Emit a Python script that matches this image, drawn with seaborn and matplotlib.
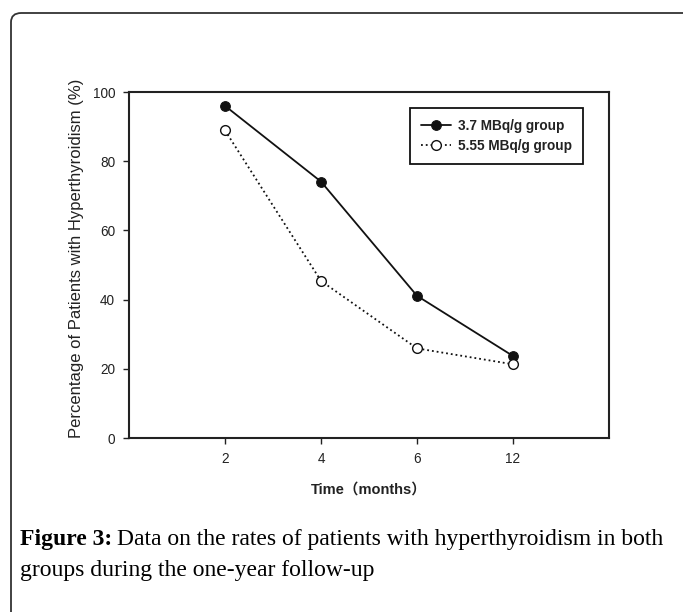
import matplotlib
matplotlib.use("Agg")
import matplotlib.pyplot as plt
import seaborn as sns
import pandas as pd
from matplotlib.patches import FancyBboxPatch

months = ["2", "4", "6", "12"]
group_a = [96.0, 74.1, 41.1, 23.7]
group_b = [88.9, 45.4, 25.9, 21.3]
label_a = "3.7 MBq/g group"
label_b = "5.55 MBq/g group"

sns.set_theme(style="white")
plt.rcParams['font.family'] = ['Liberation Sans', 'Noto Sans CJK SC', 'DejaVu Sans']

fig = plt.figure(figsize=(6.83, 6.12), dpi=100)
W, H = 683, 612
ax = fig.add_axes([129 / W, 1 - 438 / H, (609 - 129) / W, (438 - 92) / H])

df_a = pd.DataFrame({"month": months, "value": group_a})
df_b = pd.DataFrame({"month": months, "value": group_b})

sns.lineplot(data=df_a, x="month", y="value", ax=ax, color="#111111", lw=1.3,
             marker="o", markersize=7, markerfacecolor="#111111",
             markeredgecolor="#111111", label=label_a, sort=False)
sns.lineplot(data=df_b, x="month", y="value", ax=ax, color="#111111", lw=1.3,
             linestyle=":", marker="o", markersize=7, markerfacecolor="white",
             markeredgecolor="#111111", markeredgewidth=1.0, label=label_b, sort=False)

ax.set_xlim(-1, 4)
ax.set_ylim(0, 100)
ax.set_yticks([0, 20, 40, 60, 80, 100])
for s in ax.spines.values():
    s.set_color("#222222")
    s.set_linewidth(1.5)
ax.tick_params(axis="both", which="both", direction="out", length=4, width=1.0,
               color="#222222", labelsize=9.8, labelcolor="#222222", pad=6,
               left=True, bottom=True)
ax.set_xlabel("Time（months）", fontsize=10.5, fontweight="bold", color="#222222", labelpad=12)
ax.set_ylabel("Percentage of Patients with Hyperthyroidism (%)", fontsize=12,
              color="#222222", labelpad=6)
ax.yaxis.label.set_y(0.52)

leg = ax.legend(loc="upper right", bbox_to_anchor=((583 - 129) / 480, (438 - 108) / 346),
                frameon=True, fancybox=False, framealpha=1, edgecolor="#111111",
                prop={"weight": "bold", "size": 9.8}, handlelength=2.2,
                borderpad=0.8, labelspacing=0.45, handletextpad=0.5, borderaxespad=0)
leg.get_frame().set_linewidth(1.3)
for t in leg.get_texts():
    t.set_color("#222222")

# outer frame
frame = FancyBboxPatch((11 / W, 1 - 700 / H), 700 / W, (700 - 13) / H,
                       boxstyle="round,pad=0,rounding_size=0.015",
                       transform=fig.transFigure, fill=False,
                       edgecolor="#333333", linewidth=1.3)
fig.patches.append(frame)

cap_kw = dict(family=["Liberation Serif", "DejaVu Serif"], fontsize=17, color="black",
              va="baseline")
t1 = fig.text(20 / W, 1 - 545 / H, "Figure 3:", fontweight="bold", **cap_kw)
fig.canvas.draw()
bb = t1.get_window_extent()
fig.text(bb.x1 / W + 0.007, 1 - 545 / H,
         "Data on the rates of patients with hyperthyroidism in both", **cap_kw)
fig.text(20 / W, 1 - 576 / H, "groups during the one-year follow-up", **cap_kw)

fig.savefig("out.png", dpi=100)
